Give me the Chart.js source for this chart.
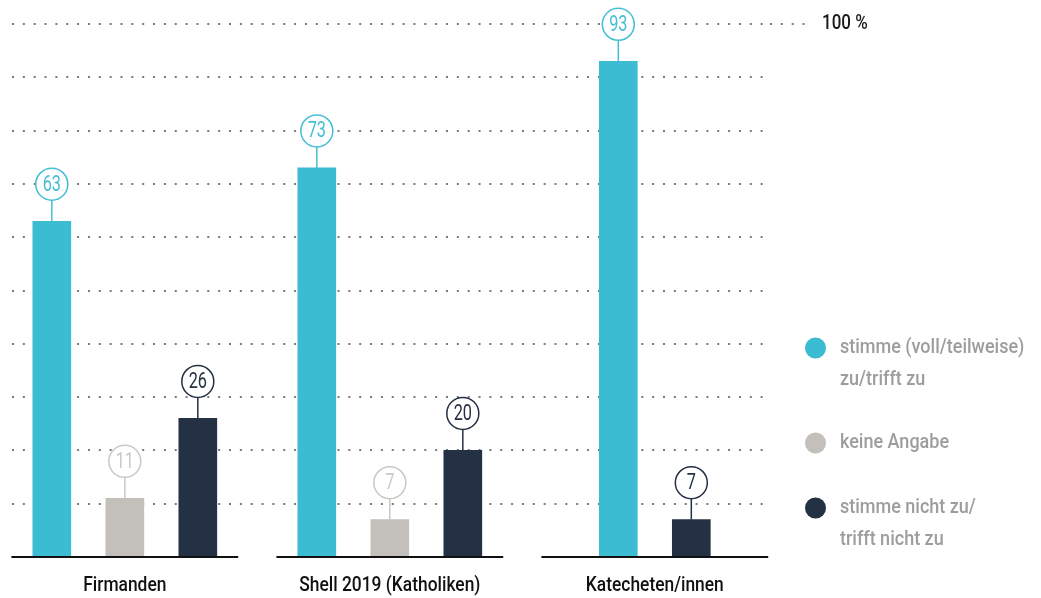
<!DOCTYPE html>
<html>
<head>
<meta charset="utf-8">
<script src="https://cdn.jsdelivr.net/npm/chart.js@4.4.1/dist/chart.umd.min.js"></script>
<style>
  html, body { margin: 0; padding: 0; background: #fff; }
</style>
</head>
<body>
<canvas id="chart-umfrage" width="1041" height="598"></canvas>
<script>
// Data
const categories = ['Firmanden', 'Shell 2019 (Katholiken)', 'Katecheten/innen'];
const seriesLabels = [
    ['stimme (voll/teilweise)', 'zu/trifft zu'],
    ['keine Angabe'],
    ['stimme nicht zu/', 'trifft nicht zu']
];
const zustimmung = [63, 73, 93];
const keineAngabe = [11, 7, null];
const ablehnung = [26, 20, 7];
const topTickLabel = '100 %';

const seriesValues = [zustimmung, keineAngabe, ablehnung];
const barColors = ['#3bbcd3', '#c3bfbb', '#243044'];
const labelColors = ['#45bfd5', '#ccc7c3', '#243044'];
const FONT = "Roboto, 'DejaVu Sans', sans-serif";

// bars of one group sit side by side, missing values are left out and the rest centred
const barStep = 0.2755;
function groupedData(k) {
    const points = [];
    categories.forEach((c, i) => {
        const present = [];
        seriesValues.forEach((s, j) => { if (s[i] !== null) present.push(j); });
        const slot = present.indexOf(k);
        if (slot < 0) return;
        points.push({ x: i + (slot - (present.length - 1) / 2) * barStep, y: seriesValues[k][i] });
    });
    return points;
}

// no condensed face installed, so squeeze the text horizontally
function narrowText(ctx, text, x, y, o) {
    ctx.save();
    ctx.font = (o.weight || 400) + ' ' + o.size + 'px ' + FONT;
    ctx.fillStyle = o.color;
    ctx.textAlign = o.align || 'left';
    ctx.textBaseline = 'middle';
    ctx.translate(x, y);
    ctx.scale(o.squeeze || 0.86, 1);
    ctx.fillText(text, 0, 0);
    ctx.restore();
}

const dotted = [2, 8.85];

const groupBaselines = {
    id: 'groupBaselines',
    afterDatasetsDraw(chart) {
        const ctx = chart.ctx;
        const xs = chart.scales.x, ys = chart.scales.y;
        const y = ys.getPixelForValue(0);
        ctx.save();
        ctx.strokeStyle = '#111';
        ctx.lineWidth = 2;
        categories.forEach((c, i) => {
            ctx.beginPath();
            ctx.moveTo(xs.getPixelForValue(i - 0.428), y);
            ctx.lineTo(xs.getPixelForValue(i + 0.428), y);
            ctx.stroke();
            narrowText(ctx, c, xs.getPixelForValue(i), y + 29,
                { size: 20, weight: 500, color: '#111', align: 'center', squeeze: 0.87 });
        });
        narrowText(ctx, topTickLabel, ys.right - 219, ys.getPixelForValue(100),
            { size: 20, weight: 500, color: '#1a1a1a', squeeze: 0.85 });
        ctx.restore();
    }
};

const valueLabels = {
    id: 'valueLabels',
    afterDatasetsDraw(chart) {
        const ctx = chart.ctx;
        chart.data.datasets.forEach((ds, k) => {
            const meta = chart.getDatasetMeta(k);
            meta.data.forEach((bar, j) => {
                const r = 16;
                const cx = bar.x, top = bar.y, cy = top - 37;
                ctx.save();
                ctx.strokeStyle = labelColors[k];
                ctx.lineWidth = 1.5;
                ctx.beginPath();
                ctx.moveTo(cx, cy + r);
                ctx.lineTo(cx, top);
                ctx.stroke();
                ctx.beginPath();
                ctx.arc(cx, cy, r, 0, Math.PI * 2);
                ctx.fillStyle = '#fff';
                ctx.fill();
                ctx.stroke();
                ctx.restore();
                narrowText(ctx, String(ds.data[j].y), cx, cy + 1,
                    { size: 22, weight: 400, color: labelColors[k], align: 'center', squeeze: 0.74 });
            });
        });
    }
};

const sideLegend = {
    id: 'sideLegend',
    afterDraw(chart) {
        const ctx = chart.ctx;
        const rows = [348, 443, 508];
        seriesLabels.forEach((lines, k) => {
            ctx.save();
            ctx.beginPath();
            ctx.arc(815.5, rows[k], 10.5, 0, Math.PI * 2);
            ctx.fillStyle = barColors[k];
            ctx.fill();
            ctx.restore();
            lines.forEach((t, n) => narrowText(ctx, t, 840, rows[k] + n * 32,
                { size: 20, weight: 500, color: '#9d9d9d', squeeze: 0.9 }));
        });
    }
};

const ctx = document.getElementById('chart-umfrage').getContext('2d');
const chartUmfrage = new Chart(ctx, {
    type: 'bar',
    data: {
        datasets: seriesValues.map((s, k) => ({
            label: seriesLabels[k].join(' '),
            data: groupedData(k),
            backgroundColor: barColors[k],
            barThickness: 38,
            grouped: false
        }))
    },
    options: {
        responsive: false,
        animation: false,
        layout: { padding: { left: 12, top: 24, right: 0, bottom: 0 } },
        plugins: {
            legend: { display: false },
            tooltip: { enabled: false }
        },
        scales: {
            x: {
                type: 'linear',
                offset: false,
                min: -0.4257,
                max: 2.4347,
                afterFit: axis => { axis.height = 41; },
                grid: { display: false, drawTicks: false, offset: false },
                border: { display: false },
                ticks: { display: false }
            },
            y: {
                position: 'right',
                min: 0,
                max: 100,
                afterFit: axis => { axis.width = 271; },
                border: { display: false, dash: dotted },
                grid: {
                    color: c => c.tick && c.tick.value === 0 ? 'rgba(0,0,0,0)' : '#7a7a7a',
                    lineWidth: 2,
                    tickLength: 38,
                    tickWidth: 2,
                    tickBorderDash: dotted,
                    tickColor: c => c.tick && c.tick.value === 100 ? '#7a7a7a' : 'rgba(0,0,0,0)'
                },
                ticks: { display: false, stepSize: 10 }
            }
        }
    },
    plugins: [groupBaselines, valueLabels, sideLegend]
});
</script>
</body>
</html>
